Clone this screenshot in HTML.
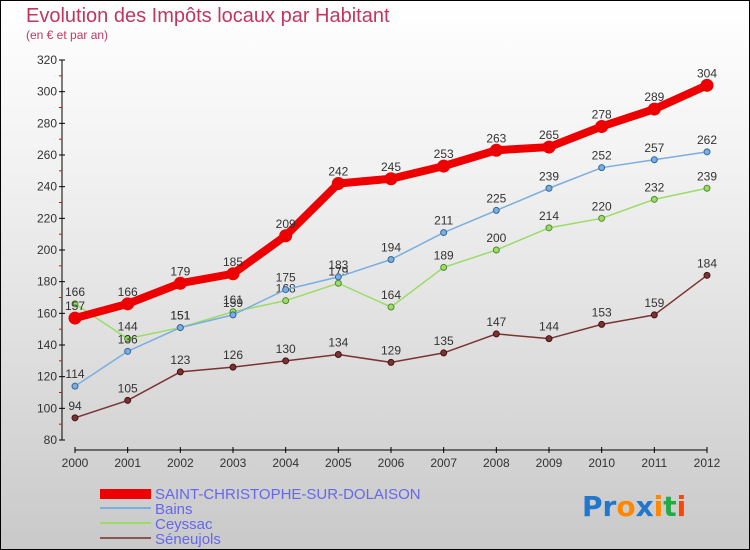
<!DOCTYPE html>
<html><head><meta charset="utf-8"><style>
body{margin:0}
#c{width:750px;height:550px;position:relative;box-sizing:border-box;border:1px solid #000;background:linear-gradient(#fff,#f2f2f2 30%,#c9c9c9);font-family:"Liberation Sans",sans-serif;overflow:hidden}
</style></head><body>
<div id="c">
<svg width="750" height="550" style="position:absolute;left:-1px;top:-1px" id="s">
<text x="26" y="22" font-size="20" fill="#c0365e">Evolution des Impôts locaux par Habitant</text>
<text x="26" y="39" font-size="12" fill="#c0365e">(en € et par an)</text>
<g id="axes"></g><g id="series"></g>
<g>
<rect x="100" y="489" width="51" height="10" fill="#e00"/>
<text x="155" y="499" font-size="15" fill="#6666ee">SAINT-CHRISTOPHE-SUR-DOLAISON</text>
<rect x="100" y="507" width="51" height="2" fill="#7aaee0"/>
<text x="155" y="514" font-size="15" fill="#6666ee">Bains</text>
<rect x="100" y="522" width="51" height="2" fill="#99dd66"/>
<text x="155" y="529" font-size="15" fill="#6666ee">Ceyssac</text>
<rect x="100" y="537" width="51" height="2" fill="#8a5555"/>
<text x="155" y="544" font-size="15" fill="#6666ee">Séneujols</text>
</g>
<text x="582" y="516" font-size="28" font-weight="bold" font-family="DejaVu Sans,sans-serif"><tspan fill="#2277cc">Pr</tspan><tspan fill="#ff8800">o</tspan><tspan fill="#2277cc">x</tspan><tspan fill="#ff8800">i</tspan><tspan fill="#22aa44">t</tspan><tspan fill="#ff4400">i</tspan></text>
</svg></div>
<script>
const years=["2000","2001","2002","2003","2004","2005","2006","2007","2008","2009","2010","2011","2012"];
const saint=[157,166,179,185,209,242,245,253,263,265,278,289,304];
const bains=[114,136,151,159,175,183,194,211,225,239,252,257,262];
const ceyssac=[166,144,151,161,168,179,164,189,200,214,220,232,239];
const seneujols=[94,105,123,126,130,134,129,135,147,144,153,159,184];
const yTicks=[80,100,120,140,160,180,200,220,240,260,280,300,320];
const NS="http://www.w3.org/2000/svg";
const X=i=>75+i*(632/12), Y=v=>440-(v-80)*(380/240);
function mk(t,a,p){const e=document.createElementNS(NS,t);for(const k in a)e.setAttribute(k,a[k]);p.appendChild(e);return e;}
const ax=document.getElementById('axes'), sg=document.getElementById('series');
let e=mk('line',{x1:62,y1:60,x2:62,y2:440,stroke:'#000'},ax);

e=mk('line',{x1:75,y1:450,x2:707,y2:450,stroke:'#000'},ax);

yTicks.forEach((v,i)=>{mk('line',{x1:59,x2:65,y1:Y(v),y2:Y(v),stroke:'#000'},ax);
 if(i<yTicks.length-1)mk('line',{x1:59,x2:62,y1:Y(v+10),y2:Y(v+10),stroke:'#f00'},ax);
 e=mk('text',{x:57,y:Y(v)+4,'font-size':12,'text-anchor':'end',fill:'#333'},ax);e.textContent=v;
 });
years.forEach((y,i)=>{mk('line',{x1:X(i),x2:X(i),y1:447,y2:453,stroke:'#000'},ax);
 e=mk('text',{x:X(i),y:467,'font-size':12,'text-anchor':'middle',fill:'#333'},ax);e.textContent=y;
 });
function series(d,col,w,r,name,dark){
 const g=mk('g',{},sg);
 mk('polyline',{points:d.map((v,i)=>X(i)+','+Y(v)).join(' '),fill:'none',stroke:col,'stroke-width':w},g);
 d.forEach((v,i)=>{e=mk('circle',{cx:X(i),cy:Y(v),r:r,fill:col,stroke:dark,'stroke-width':1},g);
  
  e=mk('text',{x:X(i),y:Y(v)-8,'font-size':12,'text-anchor':'middle',fill:'#333'},g);e.textContent=v;
  });
}
series(seneujols,'#7a3333',1.5,3,'seneujols','#441111');
series(ceyssac,'#99dd66',1.5,3,'ceyssac','#558833');
series(bains,'#7aaee0',1.5,3,'bains','#336699');
series(saint,'#ee0000',8,6,'saint','#ee0000');
</script>
</body></html>
